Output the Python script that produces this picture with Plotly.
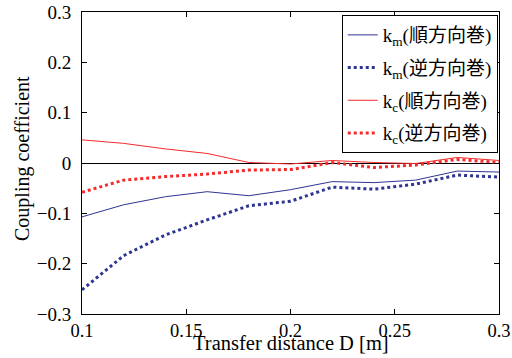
import plotly.graph_objects as go

distance = [0.10, 0.12, 0.14, 0.16, 0.18, 0.20, 0.22, 0.24, 0.26, 0.28, 0.30]
km_forward = [-0.107, -0.083, -0.067, -0.057, -0.065, -0.053, -0.037, -0.039, -0.034, -0.016, -0.018]
km_reverse = [-0.252, -0.184, -0.143, -0.113, -0.085, -0.076, -0.048, -0.052, -0.042, -0.024, -0.028]
kc_forward = [0.046, 0.039, 0.028, 0.019, 0.001, -0.002, 0.005, 0.001, -0.001, 0.011, 0.005]
kc_reverse = [-0.058, -0.034, -0.027, -0.022, -0.014, -0.013, 0.001, -0.009, -0.004, 0.007, 0.001]

names = ["k<sub>m</sub>(順方向巻)", "k<sub>m</sub>(逆方向巻)", "k<sub>c</sub>(順方向巻)", "k<sub>c</sub>(逆方向巻)"]
x_title = "Transfer distance D [m]"
y_title = "Coupling coefficient"
blue = "#2e3592"
red = "#f52a2a"

fig = go.Figure()
fig.add_trace(go.Scatter(x=distance, y=km_forward, mode="lines", name=names[0], legendgroup="a",
                         line=dict(color=blue, width=1)))
fig.add_trace(go.Scatter(x=distance, y=km_reverse, mode="lines", name=names[1], legendgroup="b",
                         line=dict(color=blue, width=3, dash="dot")))
fig.add_trace(go.Scatter(x=distance, y=kc_forward, mode="lines", name=names[2], legendgroup="c",
                         line=dict(color=red, width=1)))
fig.add_trace(go.Scatter(x=distance, y=kc_reverse, mode="lines", name=names[3], legendgroup="d",
                         line=dict(color=red, width=3, dash="dot")))

font_fam = "Liberation Serif, Times New Roman, Noto Sans CJK JP, serif"
fig.update_layout(
    width=512, height=358,
    margin=dict(l=82, r=13, t=12, b=44),
    paper_bgcolor="white", plot_bgcolor="white",
    font=dict(family=font_fam, size=16, color="black"),
    showlegend=True,
    legend=dict(x=0.997, y=0.99, xanchor="right", yanchor="top",
                bgcolor="white", bordercolor="black", borderwidth=1,
                font=dict(family=font_fam, size=19, color="black"),
                itemwidth=30, tracegroupgap=5),
    xaxis=dict(range=[0.1, 0.3], dtick=0.05, tick0=0.1, showgrid=False, zeroline=False,
               showline=True, linecolor="black", linewidth=1, mirror="ticks",
               ticks="inside", ticklen=5, tickcolor="black", automargin=False,
               tickfont=dict(size=18.5)),
    yaxis=dict(range=[-0.3, 0.3], dtick=0.1, tick0=0, showgrid=False,
               zeroline=True, zerolinecolor="black", zerolinewidth=1,
               showline=True, linecolor="black", linewidth=1, mirror="ticks",
               ticks="inside", ticklen=5, tickcolor="black", automargin=False,
               tickfont=dict(size=19), tickformat=".1~f", ticklabelstandoff=6),
    annotations=[
        dict(text=x_title, xref="paper", yref="paper", x=0.5, y=0, xanchor="center",
             yanchor="middle", yshift=-29, showarrow=False, font=dict(size=20.5)),
        dict(text=y_title, xref="paper", yref="paper", x=0, y=0.5, xanchor="center",
             yanchor="middle", xshift=-60, yshift=4, textangle=-90, showarrow=False,
             font=dict(size=20)),
    ],
)

fig.write_html("out.html", config={"displayModeBar": False},
               post_script="document.body.style.margin='0';document.body.style.overflow='hidden';")
